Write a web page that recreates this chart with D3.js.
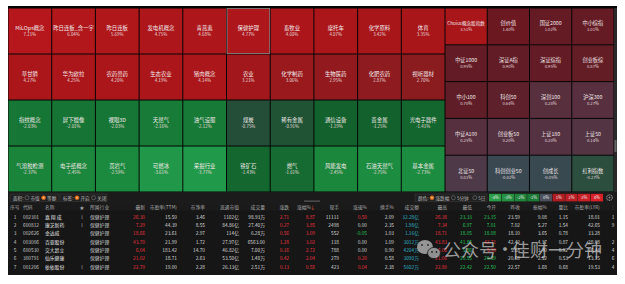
<!DOCTYPE html>
<html><head><meta charset="utf-8">
<script src="https://cdn.jsdelivr.net/npm/d3@7/dist/d3.min.js"></script>
<style>
html,body{margin:0;padding:0;background:#fff;}
svg{display:block;font-family:"Noto Sans CJK SC","Noto Sans",sans-serif;}
</style></head>
<body><div id="chart"></div>
<script>
const width = 625, height = 284;

/* ---------- données ---------- */
const sectorNames = [
  "MiLOps概念","昨日连板_含一字","昨日连板","发电机概念","青蒿素","保健护理","畜牧业","摩托车","化学原料","体育",
  "草甘膦","华为欧拉","农药兽药","生态农业","猪肉概念","农业","化学制药","生物医药","化肥农药","视听器材",
  "指纹概念","屏下摄像","裸眼3D","天然气","油气设服","煤炭","稀有金属","通信设备","贵金属","光电子器件",
  "气溶胶检测","电子纸概念","页岩气","可燃冰","采掘行业","铁矿石","燃气","风能发电","石油天然气","基本金属"
];
const sectorChanges = [
  7.21, 6.04, 5.69, 4.75, 4.68, 4.77, 4.60, 4.07, 3.42, 3.35,
  4.27, 4.25, 4.20, 4.19, 4.14, 3.21, 3.06, 2.95, 2.87, 2.70,
  -2.03, -2.01, -2.03, -2.16, -2.12, -0.75, -0.91, -1.19, -1.25, -1.41,
  -2.37, -2.45, -2.59, -3.61, -3.77, -1.43, -1.61, -2.45, -2.75, -2.73
];
const indexNames = [
  "Choice概念股指数","创价值","国证2000","中小综指",
  "中证1000","深证A指","深证综指","创业板综",
  "中小100","科创50","深创100","沪深300",
  "中证A100","创业板50","上证180","上证50",
  "北证50","科创创业50","创成长","红利指数"
];
const indexChanges = [
  3.51, 1.40, 1.02, 1.01,
  0.95, 0.90, 0.95, 0.87,
  0.70, 0.64, 0.28, 0.27,
  0.25, 0.20, 0.20, 0.14,
  0.01, -0.02, -0.05, -0.27
];
const legendTicks = [-4, -3, -2, -1, 0, 1, 2, 3, 4];

const tableHeaders = ["序号","代码","名称","★","所属行业","最新","市盈率(TTM)","市净率","流通市值","成交量","涨跌","涨幅%","现手","涨速%","换手%","成交额","最高","最低","今开","昨收","振幅%","量比","市盈率(LYR)","|"];
const stockCodes = ["002301","600812","002626","003006","600530","300791","001206"];
const stockNames = ["嘉 翔 成","康芝新药","金达威","百亚股份","交大昂立","仙乐健康","依依股份"];
const stockFlags = ["!","!","","","","","!"];
const stockIndustry = ["保健护理","保健护理","保健护理","保健护理","保健护理","保健护理","保健护理"];
//最新, TTM, 市净率, 流通市值, 成交量, 涨跌, 涨幅, 现手, 涨速, 换手, 成交额, 最高, 最低, 今开, 昨收, 振幅, 量比, LYR, 末列
const stockRows = [
  ["26.30","15.50","3.46","1102亿","98.93万","2.71","8.87","11111","0.50","2.09","32.28亿","26.38","23.33","23.15","23.59","9.08","1.15","18.01","1"],
  ["7.29","44.39","8.55","84.86亿","27.40万","0.27","3.85","2498","0.00","2.35","1.98亿","7.34","6.97","7.01","7.02","5.27","1.54","42.65","9"],
  ["18.66","23.61","2.97","114亿","6.28万","0.56","3.09","552","-0.05","1.03","1.16亿","18.71","18.05","18.08","18.10","3.65","0.78","33.28",""],
  ["43.70","21.99","1.72","27.97亿","6563.00","1.28","3.02","118","0.00","1.09","3012万","43.83","41.86","42.71","42.42","4.17","0.87","28.08","2"],
  ["6.04","181.42","14.70","46.82亿","7.00万","0.16","2.72","788","0.00","0.90","4204万","6.06","5.86","5.90","5.88","3.40","0.92","26.44","4"],
  ["21.02","18.71","2.63","53.50亿","1.48万","0.42","2.04","279","0.20","0.58","3090万","21.06","20.55","20.59","20.60","2.52","0.53","13.15","6"],
  ["22.70","19.00","2.28","26.13亿","2.51万","0.13","0.58","423","0.04","2.38","5602万","22.80","22.42","22.50","22.57","1.68","0.68","19.53","4"]
];

/* ---------- échelles de couleur ---------- */
const color = d3.scaleLinear()
  .domain([-3.7, -2.5, -2, -1.2, -0.8, -0.27, -0.02, 0, 0.25, 0.7, 1.4, 2.9, 3.3, 7.2])
  .range(["#21994a","#1b893e","#167534","#13612d","#234e37","#2b4e3e","#3a4852","#4d3947","#57303f","#5f1e27","#6b1820","#8f1b1f","#a8161a","#b5171c"])
  .clamp(true);

const legendColor = d3.scaleLinear()
  .domain([-4, -1, 0, 1, 4])
  .range(["#2a9c48","#1b7a35","#4c505c","#b01c22","#d82028"]);

const red = "#e8333d", green = "#25c25a", cyan = "#2fb4c8";

/* ---------- svg ---------- */
const svg = d3.select("#chart").append("svg")
  .attr("width", width).attr("height", height);

svg.append("rect").attr("width", width).attr("height", height).attr("fill", "#fff");
svg.append("rect").attr("x", 8).attr("y", 6).attr("width", 609).attr("height", 269).attr("fill", "#161616");
svg.append("rect").attr("x", 8).attr("y", 6).attr("width", 609).attr("height", 187).attr("fill", "#050505");

/* heatmap gauche 10 x 4 */
const xL = d3.scaleBand().domain(d3.range(10)).range([8, 445]);
const yL = d3.scaleBand().domain(d3.range(4)).range([8, 192]);

const left = svg.append("g");
const lc = left.selectAll("g").data(sectorNames).enter().append("g")
  .attr("transform", (d, i) => `translate(${xL(i % 10)},${yL(Math.floor(i / 10))})`);
lc.append("rect")
  .attr("x", 0.5).attr("y", 0.5)
  .attr("width", xL.bandwidth() - 1).attr("height", yL.bandwidth() - 1)
  .attr("fill", (d, i) => color(sectorChanges[i]))
  .attr("stroke", d => d == "保健护理" ? "#8a8a8a" : "none")
  .attr("stroke-width", 0.8);
lc.append("text")
  .attr("x", xL.bandwidth() / 2).attr("y", yL.bandwidth() / 2 - 1.5)
  .attr("text-anchor", "middle").attr("fill", "#f2eaea")
  .style("font-size", "5.4px")
  .text(d => d);
lc.append("text")
  .attr("x", xL.bandwidth() / 2).attr("y", yL.bandwidth() / 2 + 5)
  .attr("text-anchor", "middle").attr("fill", "#e8dede")
  .style("font-size", "4.4px")
  .text((d, i) => sectorChanges[i].toFixed(2) + "%");

/* heatmap droite 4 x 5 */
const xR = d3.scaleBand().domain(d3.range(4)).range([445, 614]);
const yR = d3.scaleBand().domain(d3.range(5)).range([8, 192]);

const right = svg.append("g");
const rc = right.selectAll("g").data(indexNames).enter().append("g")
  .attr("transform", (d, i) => `translate(${xR(i % 4)},${yR(Math.floor(i / 4))})`);
rc.append("rect")
  .attr("x", 0.5).attr("y", 0.5)
  .attr("width", xR.bandwidth() - 1).attr("height", yR.bandwidth() - 1)
  .attr("fill", (d, i) => color(indexChanges[i]));
rc.append("text")
  .attr("x", xR.bandwidth() / 2).attr("y", yR.bandwidth() / 2 - 1)
  .attr("text-anchor", "middle").attr("fill", "#efe6e8")
  .style("font-size", d => d.length > 8 ? "4.6px" : "5.2px")
  .text(d => d);
rc.append("text")
  .attr("x", xR.bandwidth() / 2).attr("y", yR.bandwidth() / 2 + 5)
  .attr("text-anchor", "middle").attr("fill", "#e2d8dc")
  .style("font-size", "4.2px")
  .text((d, i) => indexChanges[i].toFixed(2) + "%");

// barre de défilement
svg.append("rect").attr("x", 614).attr("y", 8).attr("width", 3).attr("height", 184).attr("fill", "#2a2a2a");
svg.append("rect").attr("x", 614.5).attr("y", 140).attr("width", 2).attr("height", 12).attr("fill", "#666");

/* ---------- barre d'outils ---------- */
const tb = svg.append("g");
tb.append("rect").attr("x", 8).attr("y", 192).attr("width", 609).attr("height", 12).attr("fill", "#1b1b1b");

function radioGroup(x, w, label, items, selected) {
  const g = tb.append("g").attr("transform", `translate(${x},194)`);
  g.append("rect").attr("width", w).attr("height", 7.5).attr("fill", "#202020").attr("stroke", "#3a3a3a").attr("stroke-width", 0.6);
  g.append("text").attr("x", 3).attr("y", 5.6).attr("fill", "#bdbdbd").style("font-size", "4.6px").text(label);
  let cx = 17;
  items.forEach((t, k) => {
    g.append("circle").attr("cx", cx).attr("cy", 3.75).attr("r", 2)
      .attr("fill", k == selected ? "#e8731c" : "none")
      .attr("stroke", k == selected ? "#e8731c" : "#8a8a8a").attr("stroke-width", 0.5);
    if (k == selected) g.append("circle").attr("cx", cx).attr("cy", 3.75).attr("r", 0.8).attr("fill", "#ffd9b0");
    g.append("text").attr("x", cx + 3.5).attr("y", 5.6).attr("fill", "#bdbdbd").style("font-size", "4.6px").text(t);
    cx += 7 + t.length * 4.8;
  });
}
radioGroup(10, 49, "面积:", ["市值", "等额"], 1);
radioGroup(60, 47, "标签:", ["开启", "关闭"], 0);
radioGroup(415, 72, "颜色:", ["涨跌幅", "5分钟", "5日"], 0);

// séparateur
tb.append("rect").attr("x", 304).attr("y", 200.5).attr("width", 16).attr("height", 1.2).attr("fill", "#5a5a5a");

// légende
const xLeg = d3.scaleBand().domain(legendTicks).range([489, 603]).paddingInner(0.04);
const leg = tb.append("g");
leg.selectAll("rect").data(legendTicks).enter().append("rect")
  .attr("x", d => xLeg(d)).attr("y", 193.8)
  .attr("width", xLeg.bandwidth()).attr("height", 7.6)
  .attr("fill", d => legendColor(d));
leg.selectAll("text").data(legendTicks).enter().append("text")
  .attr("x", d => xLeg(d) + xLeg.bandwidth() / 2).attr("y", 199.3)
  .attr("text-anchor", "middle").attr("fill", "#e8e8e8")
  .style("font-size", "4.2px")
  .text(d => d + "%");
// engrenage
tb.append("circle").attr("cx", 609.5).attr("cy", 197.6).attr("r", 2.8).attr("fill", "none").attr("stroke", "#8a8a8a").attr("stroke-width", 1.1).attr("stroke-dasharray", "1.2,0.6");
tb.append("circle").attr("cx", 609.5).attr("cy", 197.6).attr("r", 1).attr("fill", "#8a8a8a");

/* ---------- tableau ---------- */
// [ancre x, alignement]
const cols = [
  [15,"middle"],[23,"start"],[45,"start"],[82,"middle"],[90,"start"],
  [145,"end"],[177,"end"],[205,"end"],[239,"end"],[265,"end"],[289,"end"],[315,"end"],
  [339,"end"],[367,"end"],[394,"end"],[419,"end"],[447,"end"],[472,"end"],[496,"end"],
  [520,"end"],[547,"end"],[568,"end"],[600,"end"],[613,"middle"]
];
const yT = d3.scalePoint().domain(d3.range(stockCodes.length)).range([217, 267]);

const table = svg.append("g").style("font-size", "4.8px");
table.append("rect").attr("x", 8).attr("y", 204).attr("width", 609).attr("height", 6.5).attr("fill", "#1a1a1a");
table.selectAll("text.h").data(tableHeaders).enter().append("text")
  .attr("class", "h")
  .attr("x", (d, i) => i == 0 ? 10 : (i == 11 ? cols[i][0] - 4 : cols[i][0]))
  .attr("y", 209)
  .attr("text-anchor", (d, i) => i == 0 ? "start" : cols[i][1])
  .attr("fill", (d, i) => i == 23 ? "#555" : "#a8a8a8")
  .text(d => d);
table.append("text").attr("x", 315).attr("y", 209).attr("text-anchor", "end")
  .attr("fill", "#ff5a36").text("↓");

function cellColor(j, v, r) {
  const prev = parseFloat(r[14]);
  if (j == 0 || j == 11 || j == 12 || j == 13) return parseFloat(v) > prev ? red : (parseFloat(v) < prev ? green : "#ddd");
  if (j == 5 || j == 6) return parseFloat(v) > 0 ? red : (parseFloat(v) < 0 ? green : "#ddd");
  if (j == 8) return parseFloat(v) > 0 ? red : (parseFloat(v) < 0 ? green : "#d0d0d0");
  if (j == 10) return cyan;
  return "#d6d6d6";
}

stockCodes.forEach((code, i) => {
  const y = yT(i) + 1.6;
  const info = [String(i + 1), code, stockNames[i], stockFlags[i], stockIndustry[i]];
  info.forEach((t, j) => {
    table.append("text").attr("x", cols[j][0]).attr("y", y)
      .attr("text-anchor", cols[j][1])
      .attr("fill", j == 2 ? "#e6e6e6" : "#c8c8c8")
      .text(t);
  });
  stockRows[i].forEach((t, j) => {
    table.append("text").attr("x", cols[j + 5][0]).attr("y", y)
      .attr("text-anchor", cols[j + 5][1])
      .attr("fill", cellColor(j, t, stockRows[i]))
      .text(t);
  });
});

/* ---------- filigrane ---------- */
const wm = svg.append("g").attr("opacity", 0.66);
wm.append("ellipse").attr("cx", 425).attr("cy", 247).attr("rx", 8).attr("ry", 7).attr("fill", "#d8d8d8");
wm.append("ellipse").attr("cx", 434).attr("cy", 253).attr("rx", 6.5).attr("ry", 5.6).attr("fill", "#cfcfcf").attr("stroke", "#1a1a1a").attr("stroke-width", 0.8);
[[422,245],[428,245],[432,252],[436.5,252]].forEach(p =>
  wm.append("circle").attr("cx", p[0]).attr("cy", p[1]).attr("r", 0.9).attr("fill", "#333"));
wm.append("text").attr("x", 443).attr("y", 257).attr("fill", "#dcdcdc")
  .style("font-size", "18px").text("公众号");
wm.append("text").attr("x", 505).attr("y", 256).attr("text-anchor", "middle").attr("fill", "#dcdcdc")
  .style("font-size", "18px").text("·");
wm.append("text").attr("x", 512).attr("y", 257).attr("fill", "#dcdcdc")
  .style("font-size", "18px").text("佳财一分钟");
</script>
</body></html>
